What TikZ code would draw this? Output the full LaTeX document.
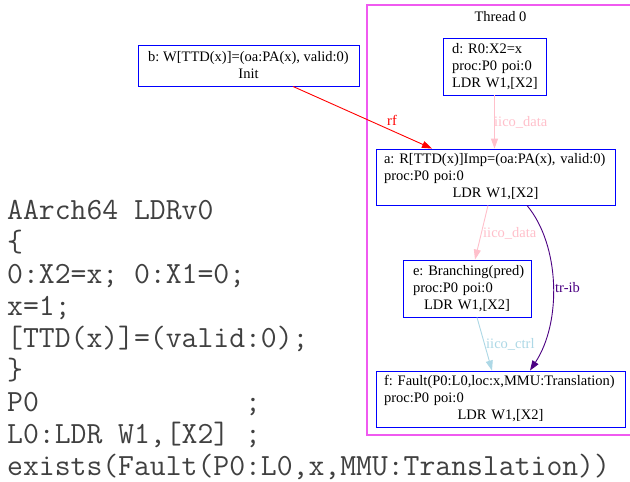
\documentclass[tikz,border=0pt]{standalone}
\usepackage{fontspec}
\setmainfont{Liberation Serif}
\usetikzlibrary{arrows.meta}
\newcommand\graphfont{\fontsize{14.5}{17}\selectfont\frenchspacing}
\newcommand\codesize{\fontsize{30.8}{32}\selectfont\frenchspacing}
\definecolor{gvpink}{RGB}{255,192,203}
\definecolor{gvlightblue}{RGB}{173,216,230}
\definecolor{gvindigo}{RGB}{75,0,130}
\definecolor{gvmagenta}{RGB}{240,90,240}
\begin{document}
\begin{tikzpicture}[x=1pt,y=-1pt,
  evbox/.style={draw=blue, line width=0.9pt, inner xsep=8pt, inner ysep=0pt, font=\graphfont, align=left},
  initbox/.style={draw=blue, line width=0.9pt, inner sep=0pt, font=\graphfont, align=center},
  codeline/.style={anchor=base west, inner sep=0pt, font=\ttfamily\codesize, text=black!75},
  elabel/.style={inner sep=0pt, font=\graphfont},
  edge/.style={line width=0.9pt, -{Triangle[length=10pt,width=7pt]}},
]
\useasboundingbox (0,0) rectangle (630,482);
\fill[white] (0,0) rectangle (630,482);

% cluster
\draw[draw=gvmagenta, line width=1.2pt] (650,5) -- (367,5) -- (367,435) -- (650,435);
\node[elabel, anchor=base] (thr) at (500.5,21) {Thread 0};

% event boxes
\node[initbox, minimum width=221pt, minimum height=41pt] (b) at (248.5,65.5)
  {b: W[TTD(x)]=(oa:PA(x), valid:0)\\Init};
\node[evbox, inner xsep=9pt, text width=85pt, minimum height=57pt] (d) at (494.5,66.5)
  {\mbox{d: R0:X2=x}\\\mbox{proc:P0 poi:0}\\\mbox{LDR W1,[X2]}};
\node[evbox, text width=223pt, minimum height=56pt] (a) at (495.5,177)
  {\mbox{a: R[TTD(x)]Imp=(oa:PA(x), valid:0)}\\\mbox{proc:P0 poi:0}\\\makebox[\linewidth]{LDR W1,[X2]}};
\node[evbox, inner xsep=10pt, text width=108pt, minimum height=57pt] (e) at (467,288.5)
  {\mbox{e: Branching(pred)}\\\mbox{proc:P0 poi:0}\\\makebox[\linewidth]{LDR W1,[X2]}};
\node[evbox, text width=233pt, minimum height=56pt] (f) at (500.5,399)
  {\mbox{f: Fault(P0:L0,loc:x,MMU:Translation)}\\\mbox{proc:P0 poi:0}\\\makebox[\linewidth]{LDR W1,[X2]}};

% edges
\draw[edge, red] ([xshift=44.5pt]b.south) -- ([xshift=-63.5pt]a.north);
\node[elabel, text=red, anchor=base] (lrf) at (392,125) {rf};

\draw[edge, gvpink] (d.south) -- (d.south |- a.north);
\node[elabel, text=gvpink, anchor=base west] (lda) at (494,126) {iico\_data};

\draw[edge, gvpink] ([xshift=-7.5pt]a.south) -- ([xshift=8pt]e.north);
\node[elabel, text=gvpink, anchor=base west] (lae) at (483,237) {iico\_data};

\draw[edge, gvlightblue] ([xshift=10pt]e.south) -- ([xshift=-8.5pt]f.north);
\node[elabel, text=gvlightblue, anchor=base west] (lef) at (486,348) {iico\_ctrl};

\draw[edge, gvindigo] ([xshift=31.5pt]a.south) .. controls (560,245) and (562,322) .. ([xshift=29.5pt]f.north);
\node[elabel, text=gvindigo, anchor=base west] (laf) at (555,292) {tr-ib};

% litmus code
\node[codeline] (c1) at (7,219) {AArch64 LDRv0};
\node[codeline] (c2) at (7,251) {\{};
\node[codeline] (c3) at (7,283) {0:X2=x; 0:X1=0;};
\node[codeline] (c4) at (7,315) {x=1;};
\node[codeline] (c5) at (7,347) {[TTD(x)]=(valid:0);};
\node[codeline] (c6) at (7,379) {\}};
\node[codeline] (c7) at (7,411) {P0\hphantom{xxxxxxxxxxxxx};};
\node[codeline] (c8) at (7,443) {L0:LDR W1,[X2] ;};
\node[codeline] (c9) at (7,475) {exists(Fault(P0:L0,x,MMU:Translation))};
\end{tikzpicture}
\end{document}
